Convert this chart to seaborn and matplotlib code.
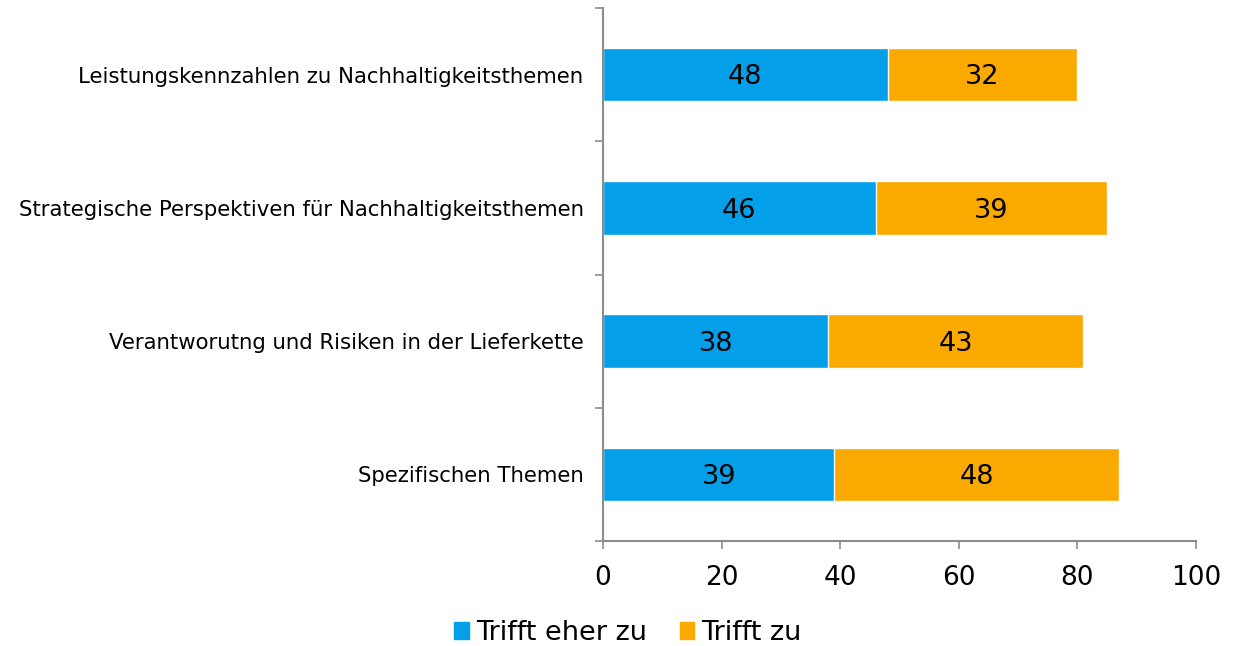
import numpy as np
import pandas as pd
import matplotlib
matplotlib.use('Agg')
import matplotlib.pyplot as plt
import seaborn as sns
from matplotlib.patches import Patch

# data
categories = ['Leistungskennzahlen zu Nachhaltigkeitsthemen',
              'Strategische Perspektiven für Nachhaltigkeitsthemen',
              'Verantworutng und Risiken in der Lieferkette',
              'Spezifischen Themen']
eher_zu = [48, 46, 38, 39]
trifft_zu = [32, 39, 43, 48]
x_ticks = [0, 20, 40, 60, 80, 100]

df = pd.DataFrame({'cat': categories, 'eher': eher_zu, 'zu': trifft_zu})
df['total'] = df['eher'] + df['zu']

blue = '#03A0E9'
orange = '#F9A900'
grey = '#8c8c8c'

sns.set_style('white')
plt.rcParams['font.family'] = ['DejaVu Sans']
plt.rcParams['text.color'] = 'black'
plt.rcParams['xtick.color'] = grey
plt.rcParams['ytick.color'] = grey
plt.rcParams['xtick.labelcolor'] = 'black'
plt.rcParams['ytick.labelcolor'] = 'black'

fig = plt.figure(figsize=(12.34, 6.46), dpi=100)
ax = fig.add_axes([603 / 1234, 105 / 646, 593 / 1234, 533 / 646])

# stacked bars: full length in orange, blue part on top
sns.barplot(data=df, y='cat', x='total', color=orange, width=0.4,
            orient='h', ax=ax, saturation=1)
sns.barplot(data=df, y='cat', x='eher', color=blue, width=0.4,
            orient='h', ax=ax, saturation=1)

for i, row in df.iterrows():
    ax.text(row['eher'] / 2, i + 0.02, str(row['eher']), ha='center',
            va='center', fontsize=19.5)
    ax.text(row['eher'] + row['zu'] / 2, i + 0.02, str(row['zu']),
            ha='center', va='center', fontsize=19.5)

ax.set_xlim(0, 100)
ax.set_ylim(len(categories) - 0.5, -0.5)
ax.set_xticks(x_ticks)
ax.set_xticklabels([str(t) for t in x_ticks], fontsize=19)
ax.set_xlabel('')
ax.set_ylabel('')
ax.tick_params(axis='y', which='major', length=0, labelsize=15.3, pad=14)
ax.set_yticks(np.arange(-0.5, len(categories)), minor=True)
ax.tick_params(axis='y', which='minor', left=True, length=5.5, width=1.2)
ax.tick_params(axis='x', bottom=True, length=6, width=1.2, pad=11)

for s in ['top', 'right']:
    ax.spines[s].set_visible(False)
for s in ['left', 'bottom']:
    ax.spines[s].set_color(grey)
    ax.spines[s].set_linewidth(1.5)

handles = [Patch(color=blue, label='Trifft eher zu'),
           Patch(color=orange, label='Trifft zu')]
fig.legend(handles=handles, loc='center', bbox_to_anchor=(628 / 1234, 13 / 646),
           ncol=2, frameon=False, fontsize=19.5, handlelength=0.55,
           handleheight=0.55, handletextpad=0.25, columnspacing=1.2)

fig.savefig('out.png', dpi=100)
